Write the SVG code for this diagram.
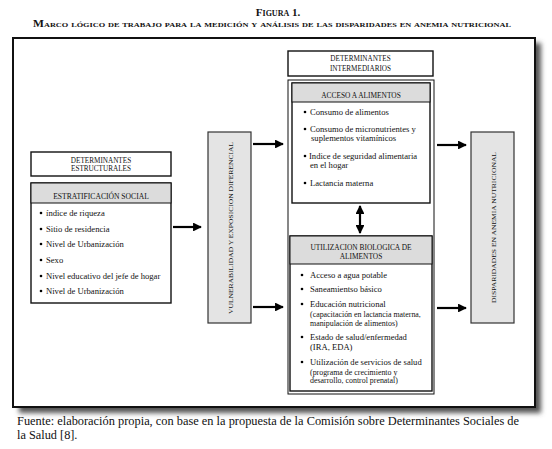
<svg xmlns="http://www.w3.org/2000/svg" width="552" height="449" viewBox="0 0 552 449" font-family="'Liberation Serif', 'DejaVu Serif', serif">
<defs>
<style>
text{font-family:'Liberation Serif','DejaVu Serif',serif;fill:#111}
.t{font-size:8.6px}
.s{font-size:7.9px}
.h{font-size:7.2px;text-anchor:middle}
.box{fill:#fff;stroke:#111;stroke-width:1.4}
.hd{fill:#dcdcdc;stroke:#111;stroke-width:1}
.vb{fill:#e4e4e4;stroke:#333;stroke-width:1.2}
.ar{stroke:#000;stroke-width:2.2;fill:none}
</style>
<marker id="ah" viewBox="0 0 10 10" refX="9" refY="5" markerWidth="4" markerHeight="4" orient="auto-start-reverse" markerUnits="strokeWidth">
<path d="M0,0 L10,5 L0,10 z" fill="#000"/>
</marker>
<filter id="sh" x="-10%" y="-10%" width="120%" height="120%">
<feGaussianBlur stdDeviation="2.5"/>
</filter>
</defs>
<rect width="552" height="449" fill="#fff"/>

<g id="title">
<text x="278" y="16" text-anchor="middle" style="font-size:11px;font-weight:bold;font-variant:small-caps">Figura 1.</text>
<text x="33" y="27" textLength="478" lengthAdjust="spacingAndGlyphs" style="font-size:9.8px;font-weight:bold;font-variant:small-caps">Marco lógico de trabajo para la medición y análisis de las disparidades en anemia nutricional</text>
</g>

<g id="frame">
<rect x="19" y="43" width="522" height="370" fill="#555" filter="url(#sh)"/>
<rect x="13" y="38" width="522" height="369" fill="#fff" stroke="#111" stroke-width="2"/>
</g>

<g id="det-estructurales">
<rect class="box" x="31" y="152" width="140" height="24"/>
<text class="h" x="101" y="162.5">DETERMINANTES</text>
<text class="h" x="101" y="171">ESTRUCTURALES</text>
</g>

<g id="estratificacion">
<rect class="box" x="31" y="183" width="140" height="120"/>
<rect class="hd" x="31" y="183" width="140" height="20"/>
<text class="h" x="101" y="198.5" style="font-size:7.6px">ESTRATIFICACIÓN SOCIAL</text>
<g>
<circle cx="41" cy="213" r="1.3"/><text class="t" x="46" y="216">índice de riqueza</text>
<circle cx="41" cy="229" r="1.3"/><text class="t" x="46" y="232">Sitio de residencia</text>
<circle cx="41" cy="244" r="1.3"/><text class="t" x="46" y="247">Nivel de Urbanización</text>
<circle cx="41" cy="260" r="1.3"/><text class="t" x="46" y="263">Sexo</text>
<circle cx="41" cy="276" r="1.3"/><text class="t" x="46" y="279">Nivel educativo del jefe de hogar</text>
<circle cx="41" cy="291" r="1.3"/><text class="t" x="46" y="294">Nivel de Urbanización</text>
</g>
</g>

<g id="vulnerabilidad">
<rect class="vb" x="208" y="132" width="43" height="191"/>
<text class="h" transform="translate(232.5,228) rotate(-90)" textLength="172" lengthAdjust="spacingAndGlyphs" style="font-size:6.6px">VULNERABILIDAD Y EXPOSICION DIFERENCIAL</text>
</g>

<g id="det-intermediarios">
<rect class="box" x="288" y="51" width="145" height="25"/>
<text class="h" x="360.5" y="61">DETERMINANTES</text>
<text class="h" x="360.5" y="70.5">INTERMEDIARIOS</text>
</g>

<g id="intermediarios-grupo">
<rect x="288" y="80" width="146" height="314" fill="#fff" stroke="#111" stroke-width="1"/>
</g>

<g id="acceso">
<rect class="box" x="292" y="83" width="138" height="120"/>
<rect class="hd" x="292" y="83" width="138" height="19"/>
<text class="h" x="361" y="97.5" style="font-size:7.4px">ACCESO A ALIMENTOS</text>
<circle cx="305" cy="112" r="1.3"/><text class="t" x="310" y="115">Consumo de alimentos</text>
<circle cx="305" cy="129" r="1.3"/><text class="t" x="310" y="132">Consumo de micronutrientes y</text>
<text class="t" x="311" y="140.5">suplementos vitamínicos</text>
<circle cx="305" cy="156" r="1.3"/><text class="t" x="309" y="159">Indice de seguridad alimentaria</text>
<text class="t" x="310" y="167.5">en el hogar</text>
<circle cx="305" cy="183" r="1.3"/><text class="t" x="310" y="186">Lactancia materna</text>
</g>

<g id="utilizacion">
<rect class="box" x="290" y="236" width="142" height="155"/>
<rect class="hd" x="290" y="236" width="142" height="28"/>
<text class="h" x="361" y="249.5" style="font-size:7.4px">UTILIZACION BIOLOGICA DE</text>
<text class="h" x="361" y="258.5" style="font-size:7.4px">ALIMENTOS</text>
<circle cx="302" cy="275" r="1.3"/><text class="t" x="310" y="278">Acceso a agua potable</text>
<circle cx="302" cy="289" r="1.3"/><text class="t" x="310" y="292">Saneamientso básico</text>
<circle cx="302" cy="304" r="1.3"/><text class="t" x="310" y="307">Educación nutricional</text>
<text class="s" x="310" y="316.5">(capacitación en lactancia materna,</text>
<text class="s" x="310" y="325.5">manipulación de alimentos)</text>
<circle cx="302" cy="337" r="1.3"/><text class="t" x="310" y="340">Estado de salud/enfermedad</text>
<text class="t" x="310" y="350">(IRA, EDA)</text>
<circle cx="302" cy="362" r="1.3"/><text class="t" x="310" y="365">Utilización de servicios de salud</text>
<text class="s" x="310" y="374.5">(programa de crecimiento y</text>
<text class="s" x="310" y="383">desarrollo, control prenatal)</text>
</g>

<g id="disparidades">
<rect class="vb" x="471" y="132" width="43" height="191"/>
<text class="h" transform="translate(495.5,227.5) rotate(-90)" textLength="151" lengthAdjust="spacingAndGlyphs" style="font-size:6.4px">DISPARIDADES EN ANEMIA NUTRICIONAL</text>
</g>

<g id="connectors">
<line class="ar" x1="173" y1="227" x2="201" y2="227" marker-end="url(#ah)"/>
<line class="ar" x1="253" y1="144" x2="283" y2="144" marker-end="url(#ah)"/>
<line class="ar" x1="253" y1="307" x2="283" y2="307" marker-end="url(#ah)"/>
<line class="ar" x1="437" y1="145" x2="466" y2="145" marker-end="url(#ah)"/>
<line class="ar" x1="437" y1="308" x2="466" y2="308" marker-end="url(#ah)"/>
<line class="ar" x1="360" y1="206" x2="360" y2="233" marker-start="url(#ah)" marker-end="url(#ah)"/>
</g>

<g id="footer">
<text x="17" y="425" textLength="502" lengthAdjust="spacingAndGlyphs" style="font-size:12.3px">Fuente: elaboración propia, con base en la propuesta de la Comisión sobre Determinantes Sociales de</text>
<text x="17" y="439" style="font-size:12.3px">la Salud [8].</text>
</g>
</svg>
